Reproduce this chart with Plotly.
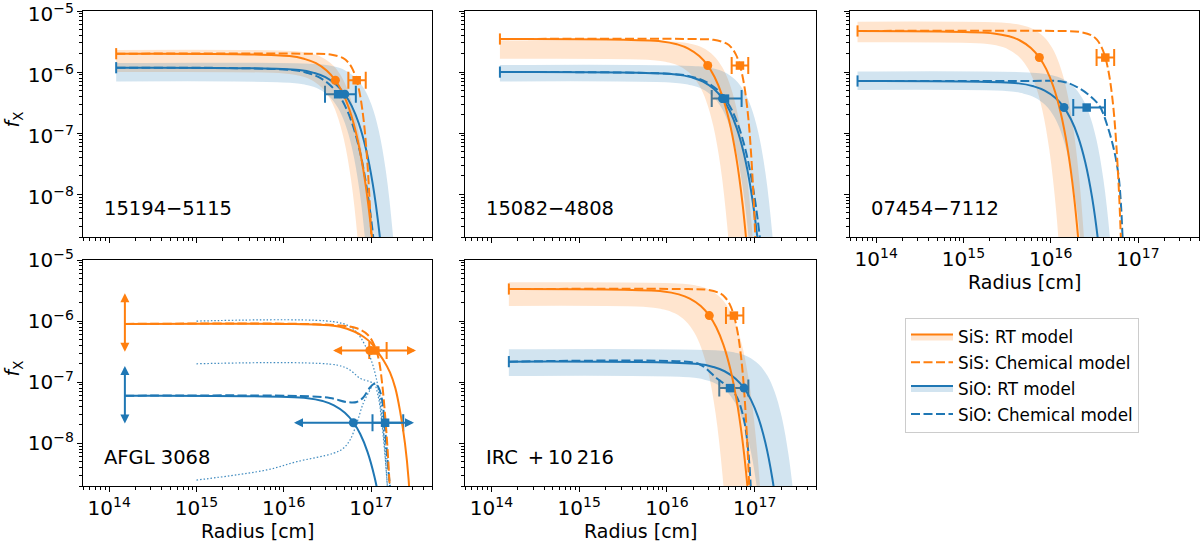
import numpy as np
import plotly.graph_objects as go

ORANGE = "#ff7f0e"
BLUE = "#1f77b4"
ORANGE_BAND = "rgba(255,127,14,0.2)"
BLUE_BAND = "rgba(31,119,180,0.2)"
DOT_BLUE = "rgba(31,119,180,0.85)"
FONT = "DejaVu Sans"

panel_names = ["15194\u22125115", "15082\u22124808", "07454\u22127112",
               "AFGL 3068", "IRC\u2002+\u200910\u2009216"]
legend_names = ["SiS: RT model", "SiS: Chemical model", "SiO: RT model", "SiO: Chemical model"]
x_limits = [5e13, 5e17]
y_limits = [2e-9, 1e-5]

# ---------------- Panel 1 : 15194-5115 ----------------
p1_sis_rt_r = [1.2e14, 1.17e16, 1.755e16, 2.34e16, 3.12e16, 3.9e16, 4.68e16, 5.655e16, 6.825e16, 8.19e16, 9.75e16, 1.17e17]
p1_sis_rt_f = [2.0e-6, 1.83e-6, 1.63e-6, 1.40e-6, 1.05e-6, 7.36e-7, 4.74e-7, 2.44e-7, 9.36e-8, 2.44e-8, 3.86e-9, 2.46e-10]
p1_sis_chem_r = [1.2e14, 2.055e16, 3.425e16, 4.795e16, 5.48e16, 6.165e16, 6.85e16, 7.535e16, 8.22e16, 8.905e16, 9.93e16, 1.096e17]
p1_sis_chem_f = [2.0e-6, 1.995e-6, 1.94e-6, 1.69e-6, 1.44e-6, 1.11e-6, 7.36e-7, 4.0e-7, 1.66e-7, 4.88e-8, 3.29e-9, 5.6e-11]
p1_sis_hi_r = [1.2e14, 1.374e16, 2.061e16, 2.748e16, 3.664e16, 4.58e16, 5.496e16, 6.641e16, 8.015e16, 9.618e16, 1.145e17]
p1_sis_hi_f = [2.3e-6, 2.19e-6, 2.01e-6, 1.74e-6, 1.30e-6, 8.46e-7, 4.75e-7, 1.83e-7, 4.0e-8, 3.86e-9, 1.17e-10]
p1_sis_lo_r = [1.2e14, 1.011e16, 1.517e16, 2.022e16, 2.696e16, 3.37e16, 4.044e16, 4.887e16, 5.898e16, 7.077e16, 8.425e16]
p1_sis_lo_f = [1.0e-6, 9.52e-7, 8.73e-7, 7.57e-7, 5.64e-7, 3.68e-7, 2.07e-7, 7.95e-8, 1.74e-8, 1.68e-9, 5.1e-11]
p1_sio_rt_r = [1.2e14, 1.5e16, 2.25e16, 3.0e16, 4.0e16, 5.0e16, 6.0e16, 7.25e16, 8.75e16, 1.05e17, 1.25e17, 1.5e17]
p1_sio_rt_f = [1.18e-6, 1.079e-6, 9.64e-7, 8.24e-7, 6.22e-7, 4.34e-7, 2.80e-7, 1.44e-7, 5.52e-8, 1.44e-8, 2.28e-9, 1.45e-10]
p1_sio_chem_r = [1.2e14, 1.26e16, 1.89e16, 2.52e16, 3.36e16, 4.2e16, 5.04e16, 6.09e16, 7.35e16, 8.82e16, 1.05e17, 1.26e17]
p1_sio_chem_f = [1.18e-6, 1.079e-6, 9.64e-7, 8.24e-7, 6.22e-7, 4.34e-7, 2.80e-7, 1.44e-7, 5.52e-8, 1.44e-8, 2.28e-9, 1.45e-10]
p1_sio_hi_r = [1.2e14, 2.532e16, 3.798e16, 5.064e16, 6.752e16, 8.44e16, 1.013e17, 1.224e17, 1.477e17, 1.772e17, 2.11e17]
p1_sio_hi_f = [1.41e-6, 1.342e-6, 1.231e-6, 1.067e-6, 7.95e-7, 5.19e-7, 2.91e-7, 1.12e-7, 2.45e-8, 2.37e-9, 7.2e-11]
p1_sio_lo_r = [1.2e14, 1.257e16, 1.886e16, 2.514e16, 3.352e16, 4.19e16, 5.028e16, 6.076e16, 7.333e16, 8.799e16, 1.048e17]
p1_sio_lo_f = [7.0e-7, 6.66e-7, 6.11e-7, 5.30e-7, 3.95e-7, 2.58e-7, 1.45e-7, 5.57e-8, 1.22e-8, 1.18e-9, 3.6e-11]
p1_sis_circle = [3.9e16, 7.36e-7]
p1_sis_square = [6.85e16, 7.36e-7]
p1_sis_err = [5.5e16, 8.7e16]
p1_sio_circle = [5.0e16, 4.34e-7]
p1_sio_square = [4.2e16, 4.34e-7]
p1_sio_err = [2.97e16, 6.7e16]

# ---------------- Panel 2 : 15082-4808 ----------------
p2_sis_rt_r = [1.25e14, 8.76e15, 1.314e16, 1.752e16, 2.336e16, 2.92e16, 3.504e16, 4.234e16, 5.11e16, 6.132e16, 7.3e16, 8.76e16]
p2_sis_rt_f = [3.48e-6, 3.18e-6, 2.84e-6, 2.43e-6, 1.83e-6, 1.28e-6, 8.25e-7, 4.25e-7, 1.63e-7, 4.25e-8, 6.72e-9, 4.28e-10]
p2_sis_chem_r = [1.25e14, 2.04e16, 3.4e16, 4.76e16, 5.44e16, 6.12e16, 6.8e16, 7.48e16, 8.16e16, 8.84e16, 9.86e16, 1.088e17]
p2_sis_chem_f = [3.48e-6, 3.47e-6, 3.37e-6, 2.94e-6, 2.51e-6, 1.93e-6, 1.28e-6, 6.95e-7, 2.89e-7, 8.49e-8, 5.72e-9, 9.7e-11]
p2_sis_hi_r = [1.25e14, 1.278e16, 1.917e16, 2.556e16, 3.408e16, 4.26e16, 5.112e16, 6.177e16, 7.455e16, 8.946e16, 1.065e17]
p2_sis_hi_f = [3.3e-6, 3.14e-6, 2.88e-6, 2.50e-6, 1.86e-6, 1.21e-6, 6.81e-7, 2.62e-7, 5.74e-8, 5.54e-9, 1.68e-10]
p2_sis_lo_r = [1.25e14, 6.99e15, 1.049e16, 1.398e16, 1.864e16, 2.33e16, 2.796e16, 3.379e16, 4.078e16, 4.893e16, 5.825e16]
p2_sis_lo_f = [1.65e-6, 1.57e-6, 1.44e-6, 1.25e-6, 9.31e-7, 6.07e-7, 3.41e-7, 1.31e-7, 2.87e-8, 2.77e-9, 8.4e-11]
p2_sio_rt_r = [1.25e14, 1.29e16, 1.935e16, 2.58e16, 3.44e16, 4.3e16, 5.16e16, 6.235e16, 7.525e16, 9.03e16, 1.075e17, 1.29e17]
p2_sio_rt_f = [1.0e-6, 9.14e-7, 8.17e-7, 6.98e-7, 5.27e-7, 3.68e-7, 2.37e-7, 1.22e-7, 4.68e-8, 1.22e-8, 1.93e-9, 1.23e-10]
p2_sio_chem_r = [1.25e14, 1.377e16, 2.066e16, 2.754e16, 3.672e16, 4.59e16, 5.508e16, 6.656e16, 8.033e16, 9.639e16, 1.148e17, 1.377e17]
p2_sio_chem_f = [1.0e-6, 9.14e-7, 8.17e-7, 6.98e-7, 5.27e-7, 3.68e-7, 2.37e-7, 1.22e-7, 4.68e-8, 1.22e-8, 1.93e-9, 1.23e-10]
p2_sio_hi_r = [1.25e14, 2.271e16, 3.407e16, 4.542e16, 6.056e16, 7.57e16, 9.084e16, 1.098e17, 1.325e17, 1.59e17, 1.893e17]
p2_sio_hi_f = [1.31e-6, 1.247e-6, 1.144e-6, 9.92e-7, 7.39e-7, 4.82e-7, 2.71e-7, 1.04e-7, 2.28e-8, 2.2e-9, 6.7e-11]
p2_sio_lo_r = [1.25e14, 1.26e16, 1.89e16, 2.52e16, 3.36e16, 4.2e16, 5.04e16, 6.09e16, 7.35e16, 8.82e16, 1.05e17]
p2_sio_lo_f = [7.0e-7, 6.66e-7, 6.11e-7, 5.30e-7, 3.95e-7, 2.58e-7, 1.45e-7, 5.57e-8, 1.22e-8, 1.18e-9, 3.6e-11]
p2_sis_circle = [2.92e16, 1.28e-6]
p2_sis_square = [6.8e16, 1.28e-6]
p2_sis_err = [5.47e16, 8.45e16]
p2_sio_circle = [4.3e16, 3.68e-7]
p2_sio_square = [4.59e16, 3.68e-7]
p2_sio_err = [3.24e16, 7.1e16]

# ---------------- Panel 3 : 07454-7112 ----------------
p3_sis_rt_r = [6.1e13, 2.22e15, 3.33e15, 4.44e15, 5.92e15, 7.4e15, 8.88e15, 1.073e16, 1.295e16, 1.554e16, 1.85e16, 2.22e16]
p3_sis_rt_f = [4.71e-6, 4.30e-6, 3.85e-6, 3.29e-6, 2.48e-6, 1.73e-6, 1.12e-6, 5.75e-7, 2.20e-7, 5.75e-8, 9.09e-9, 5.79e-10]
p3_sis_chem_r = [6.1e13, 1.266e16, 2.11e16, 2.954e16, 3.376e16, 3.798e16, 4.22e16, 4.642e16, 5.064e16, 5.486e16, 6.119e16, 6.752e16]
p3_sis_chem_f = [4.71e-6, 4.70e-6, 4.56e-6, 3.98e-6, 3.39e-6, 2.61e-6, 1.73e-6, 9.41e-7, 3.91e-7, 1.15e-7, 7.75e-9, 1.31e-10]
p3_sis_hi_r = [6.1e13, 3.12e15, 4.68e15, 6.24e15, 8.32e15, 1.04e16, 1.248e16, 1.508e16, 1.82e16, 2.184e16, 2.6e16]
p3_sis_hi_f = [6.7e-6, 6.38e-6, 5.85e-6, 5.07e-6, 3.78e-6, 2.47e-6, 1.38e-6, 5.33e-7, 1.17e-7, 1.13e-8, 3.4e-10]
p3_sis_lo_r = [6.1e13, 1.65e15, 2.475e15, 3.3e15, 4.4e15, 5.5e15, 6.6e15, 7.975e15, 9.625e15, 1.155e16, 1.375e16]
p3_sis_lo_f = [3.08e-6, 2.93e-6, 2.69e-6, 2.33e-6, 1.74e-6, 1.13e-6, 6.36e-7, 2.45e-7, 5.36e-8, 5.17e-9, 1.57e-10]
p3_sio_rt_r = [6.1e13, 4.26e15, 6.39e15, 8.52e15, 1.136e16, 1.42e16, 1.704e16, 2.059e16, 2.485e16, 2.982e16, 3.55e16, 4.26e16]
p3_sio_rt_f = [7.15e-7, 6.54e-7, 5.84e-7, 4.99e-7, 3.77e-7, 2.63e-7, 1.69e-7, 8.72e-8, 3.35e-8, 8.72e-9, 1.38e-9, 8.79e-11]
p3_sio_chem_r = [6.1e13, 5.0e15, 1.38e16, 2.0e16, 2.89e16, 3.66e16, 4.53e16, 5.31e16, 5.97e16, 6.38e16, 6.68e16, 6.9e16]
p3_sio_chem_f = [7.15e-7, 7.12e-7, 6.97e-7, 5.7e-7, 3.95e-7, 2.72e-7, 1.22e-7, 5.3e-8, 2.07e-8, 6.7e-9, 1.8e-9, 1.0e-9]
p3_sio_hi_r = [6.1e13, 6.87e15, 1.031e16, 1.374e16, 1.832e16, 2.29e16, 2.748e16, 3.321e16, 4.008e16, 4.809e16, 5.725e16]
p3_sio_hi_f = [1.02e-6, 9.71e-7, 8.90e-7, 7.72e-7, 5.75e-7, 3.75e-7, 2.11e-7, 8.11e-8, 1.77e-8, 1.71e-9, 5.2e-11]
p3_sio_lo_r = [6.1e13, 3.27e15, 4.905e15, 6.54e15, 8.72e15, 1.09e16, 1.308e16, 1.581e16, 1.908e16, 2.289e16, 2.725e16]
p3_sio_lo_f = [5.09e-7, 4.85e-7, 4.44e-7, 3.85e-7, 2.87e-7, 1.87e-7, 1.05e-7, 4.05e-8, 8.86e-9, 8.55e-10, 2.6e-11]
p3_sis_circle = [7.4e15, 1.73e-6]
p3_sis_square = [4.22e16, 1.73e-6]
p3_sis_err = [3.35e16, 5.33e16]
p3_sio_circle = [1.42e16, 2.63e-7]
p3_sio_square = [2.58e16, 2.63e-7]
p3_sio_err = [1.81e16, 4.18e16]

# ---------------- Panel 4 : AFGL 3068 ----------------
p4_sis_rt_r = [1.51e14, 1.2e16, 2.6e16, 4.4e16, 6.5e16, 8.2e16, 1.0e17, 1.16e17, 1.4e17, 1.65e17, 1.9e17, 2.15e17, 2.45e17, 2.7e17, 2.85e17]
p4_sis_rt_f = [9.0e-7, 8.95e-7, 8.7e-7, 8.1e-7, 6.7e-7, 5.55e-7, 4.4e-7, 3.3e-7, 2.25e-7, 1.45e-7, 8.0e-8, 3.4e-8, 1.0e-8, 2.5e-9, 6e-10]
p4_sis_chem_r = [1.51e14, 1.53e16, 4.42e16, 6.86e16, 9.23e16, 1.11e17, 1.23e17, 1.34e17, 1.45e17, 1.55e17, 1.63e17, 1.67e17]
p4_sis_chem_f = [9.0e-7, 9.0e-7, 8.47e-7, 7.62e-7, 5.92e-7, 3.81e-7, 2.31e-7, 9.7e-8, 2.9e-8, 7.8e-9, 2.24e-9, 1.2e-9]
p4_sio_rt_r = [1.51e14, 1.881e16, 2.822e16, 3.762e16, 5.016e16, 6.27e16, 7.524e16, 9.092e16, 1.097e17, 1.317e17, 1.568e17]
p4_sio_rt_f = [6.0e-8, 5.48e-8, 4.90e-8, 4.19e-8, 3.16e-8, 2.21e-8, 1.42e-8, 7.32e-9, 2.81e-9, 7.32e-10, 1.16e-10]
p4_sio_chem_r = [1.51e14, 1.53e16, 3.39e16, 5.26e16, 6.86e16, 8.15e16, 9.73e16, 1.11e17, 1.23e17, 1.34e17, 1.43e17, 1.5e17, 1.58e17, 1.65e17, 1.69e17]
p4_sio_chem_f = [6.0e-8, 5.94e-8, 5.51e-8, 4.74e-8, 4.74e-8, 5.62e-8, 8.18e-8, 9.5e-8, 8.0e-8, 5.1e-8, 2.15e-8, 9.4e-9, 3.66e-9, 1.93e-9, 1.2e-9]
p4_dot1_r = [1e15, 3.66e16, 5.74e16, 7.48e16, 9.73e16, 1.16e17, 1.27e17, 1.38e17, 1.51e17, 1.65e17, 1.69e17]
p4_dot1_f = [1.0e-6, 9.8e-7, 8.1e-7, 5.56e-7, 2.61e-7, 1.09e-7, 4.52e-8, 1.65e-8, 6.04e-9, 1.95e-9, 1.2e-9]
p4_dot2_r = [1e15, 4.05e16, 5.74e16, 7.48e16, 9.73e16, 1.16e17, 1.27e17, 1.36e17, 1.45e17, 1.54e17, 1.56e17]
p4_dot2_f = [2.0e-7, 1.91e-7, 1.58e-7, 1.16e-7, 1.02e-7, 9.0e-8, 5.79e-8, 2.4e-8, 6.86e-9, 1.95e-9, 1.2e-9]
p4_dot3_r = [1e15, 6.37e15, 1.41e16, 3.7e16, 4.81e16, 5.74e16, 6.86e16, 8.15e16, 9.73e16, 1.08e17, 1.21e17, 1.32e17, 1.45e17, 1.54e17, 1.58e17]
p4_dot3_f = [2.5e-9, 3.66e-9, 5.0e-9, 6.86e-9, 8.28e-9, 1.13e-8, 2.12e-8, 4.52e-8, 7.45e-8, 9.6e-8, 5.79e-8, 2.4e-8, 6.04e-9, 1.95e-9, 1.2e-9]
p4_sis_circle = [9.7e16, 3.3e-7]
p4_sis_square = [1.12e17, 3.3e-7]
p4_sis_err = [9.55e16, 1.51e17]
p4_sis_harrow = [3.53e16, 3.28e17]
p4_sis_varrow = [2.97e-7, 2.85e-6]
p4_sio_circle = [6.27e16, 2.17e-8]
p4_sio_square = [1.45e17, 2.17e-8]
p4_sio_err = [1.04e17, 2.34e17]
p4_sio_harrow = [1.26e16, 3.11e17]
p4_sio_varrow = [2.0e-8, 1.84e-7]

# ---------------- Panel 5 : IRC +10216 ----------------
p5_sis_rt_r = [1.58e14, 9.12e15, 1.368e16, 1.824e16, 2.432e16, 3.04e16, 3.648e16, 4.408e16, 5.32e16, 6.384e16, 7.6e16, 9.12e16]
p5_sis_rt_f = [3.35e-6, 3.06e-6, 2.74e-6, 2.34e-6, 1.77e-6, 1.23e-6, 7.94e-7, 4.09e-7, 1.57e-7, 4.09e-8, 6.47e-9, 4.12e-10]
p5_sis_chem_r = [1.58e14, 1.74e16, 2.9e16, 4.06e16, 4.64e16, 5.22e16, 5.8e16, 6.38e16, 6.96e16, 7.54e16, 8.41e16, 9.28e16]
p5_sis_chem_f = [3.35e-6, 3.34e-6, 3.25e-6, 2.83e-6, 2.41e-6, 1.86e-6, 1.23e-6, 6.69e-7, 2.78e-7, 8.18e-8, 5.51e-9, 9.3e-11]
p5_sis_hi_r = [1.58e14, 1.527e16, 2.291e16, 3.054e16, 4.072e16, 5.09e16, 6.108e16, 7.381e16, 8.908e16, 1.069e17, 1.273e17]
p5_sis_hi_f = [4.31e-6, 4.10e-6, 3.76e-6, 3.26e-6, 2.43e-6, 1.59e-6, 8.90e-7, 3.43e-7, 7.5e-8, 7.24e-9, 2.2e-10]
p5_sis_lo_r = [1.58e14, 6.15e15, 9.225e15, 1.23e16, 1.64e16, 2.05e16, 2.46e16, 2.973e16, 3.588e16, 4.305e16, 5.125e16]
p5_sis_lo_f = [1.77e-6, 1.69e-6, 1.55e-6, 1.34e-6, 9.98e-7, 6.51e-7, 3.66e-7, 1.41e-7, 3.08e-8, 2.97e-9, 9.0e-11]
p5_sio_rt_r = [1.58e14, 2.271e16, 3.407e16, 4.542e16, 6.056e16, 7.57e16, 9.084e16, 1.098e17, 1.325e17, 1.59e17, 1.893e17, 2.271e17]
p5_sio_rt_f = [2.17e-7, 1.98e-7, 1.77e-7, 1.51e-7, 1.14e-7, 7.99e-8, 5.14e-8, 2.65e-8, 1.02e-8, 2.65e-9, 4.19e-10, 2.67e-11]
p5_sio_chem_r = [1.58e14, 1.83e16, 2.38e16, 2.84e16, 3.69e16, 5.24e16, 6.24e16, 7.43e16, 8.11e16, 8.69e16, 9.02e16, 9.15e16]
p5_sio_chem_f = [2.17e-7, 2.14e-7, 1.95e-7, 1.64e-7, 1.16e-7, 7.94e-8, 5.79e-8, 2.72e-8, 1.28e-8, 4.71e-9, 1.95e-9, 1.2e-9]
p5_sio_hi_r = [1.58e14, 4.2e16, 6.3e16, 8.4e16, 1.12e17, 1.4e17, 1.68e17, 2.03e17, 2.45e17, 2.94e17, 3.5e17]
p5_sio_hi_f = [3.45e-7, 3.28e-7, 3.01e-7, 2.61e-7, 1.95e-7, 1.27e-7, 7.12e-8, 2.74e-8, 6.0e-9, 5.8e-10, 1.76e-11]
p5_sio_lo_r = [1.58e14, 1.788e16, 2.682e16, 3.576e16, 4.768e16, 5.96e16, 7.152e16, 8.642e16, 1.043e17, 1.252e17, 1.49e17]
p5_sio_lo_f = [1.26e-7, 1.20e-7, 1.10e-7, 9.54e-8, 7.11e-8, 4.64e-8, 2.6e-8, 1.0e-8, 2.19e-9, 2.12e-10, 6.4e-12]
p5_sis_circle = [3.04e16, 1.23e-6]
p5_sis_square = [5.8e16, 1.23e-6]
p5_sis_err = [4.71e16, 7.43e16]
p5_sio_circle = [7.57e16, 8.0e-8]
p5_sio_square = [5.24e16, 8.0e-8]
p5_sio_err = [3.95e16, 8.47e16]

# --------- assemble (table built from the named arrays) ---------
panels = [
    dict(sis_rt=(p1_sis_rt_r, p1_sis_rt_f), sis_chem=(p1_sis_chem_r, p1_sis_chem_f),
         sis_hi=(p1_sis_hi_r, p1_sis_hi_f), sis_lo=(p1_sis_lo_r, p1_sis_lo_f),
         sio_rt=(p1_sio_rt_r, p1_sio_rt_f), sio_chem=(p1_sio_chem_r, p1_sio_chem_f),
         sio_hi=(p1_sio_hi_r, p1_sio_hi_f), sio_lo=(p1_sio_lo_r, p1_sio_lo_f),
         sis_c=p1_sis_circle, sis_s=p1_sis_square, sis_e=p1_sis_err,
         sio_c=p1_sio_circle, sio_s=p1_sio_square, sio_e=p1_sio_err),
    dict(sis_rt=(p2_sis_rt_r, p2_sis_rt_f), sis_chem=(p2_sis_chem_r, p2_sis_chem_f),
         sis_hi=(p2_sis_hi_r, p2_sis_hi_f), sis_lo=(p2_sis_lo_r, p2_sis_lo_f),
         sio_rt=(p2_sio_rt_r, p2_sio_rt_f), sio_chem=(p2_sio_chem_r, p2_sio_chem_f),
         sio_hi=(p2_sio_hi_r, p2_sio_hi_f), sio_lo=(p2_sio_lo_r, p2_sio_lo_f),
         sis_c=p2_sis_circle, sis_s=p2_sis_square, sis_e=p2_sis_err,
         sio_c=p2_sio_circle, sio_s=p2_sio_square, sio_e=p2_sio_err),
    dict(sis_rt=(p3_sis_rt_r, p3_sis_rt_f), sis_chem=(p3_sis_chem_r, p3_sis_chem_f),
         sis_hi=(p3_sis_hi_r, p3_sis_hi_f), sis_lo=(p3_sis_lo_r, p3_sis_lo_f),
         sio_rt=(p3_sio_rt_r, p3_sio_rt_f), sio_chem=(p3_sio_chem_r, p3_sio_chem_f),
         sio_hi=(p3_sio_hi_r, p3_sio_hi_f), sio_lo=(p3_sio_lo_r, p3_sio_lo_f),
         sis_c=p3_sis_circle, sis_s=p3_sis_square, sis_e=p3_sis_err,
         sio_c=p3_sio_circle, sio_s=p3_sio_square, sio_e=p3_sio_err),
    dict(sis_rt=(p4_sis_rt_r, p4_sis_rt_f), sis_chem=(p4_sis_chem_r, p4_sis_chem_f),
         sio_rt=(p4_sio_rt_r, p4_sio_rt_f), sio_chem=(p4_sio_chem_r, p4_sio_chem_f),
         dots=[(p4_dot1_r, p4_dot1_f), (p4_dot2_r, p4_dot2_f), (p4_dot3_r, p4_dot3_f)],
         sis_c=p4_sis_circle, sis_s=p4_sis_square, sis_e=p4_sis_err,
         sio_c=p4_sio_circle, sio_s=p4_sio_square, sio_e=p4_sio_err),
    dict(sis_rt=(p5_sis_rt_r, p5_sis_rt_f), sis_chem=(p5_sis_chem_r, p5_sis_chem_f),
         sis_hi=(p5_sis_hi_r, p5_sis_hi_f), sis_lo=(p5_sis_lo_r, p5_sis_lo_f),
         sio_rt=(p5_sio_rt_r, p5_sio_rt_f), sio_chem=(p5_sio_chem_r, p5_sio_chem_f),
         sio_hi=(p5_sio_hi_r, p5_sio_hi_f), sio_lo=(p5_sio_lo_r, p5_sio_lo_f),
         sis_c=p5_sis_circle, sis_s=p5_sis_square, sis_e=p5_sis_err,
         sio_c=p5_sio_circle, sio_s=p5_sio_square, sio_e=p5_sio_err),
]

fig = go.Figure()


def sfx(i):
    return "" if i == 0 else str(i + 1)


def ax_kw(i):
    return dict(xaxis="x" + sfx(i), yaxis="y" + sfx(i), showlegend=False, hoverinfo="skip")


def add_line(i, rf, color, dash="solid", width=2.0):
    fig.add_trace(go.Scatter(x=rf[0], y=rf[1], mode="lines",
                             line=dict(color=color, width=width, dash=dash, shape="spline", smoothing=1.0),
                             **ax_kw(i)))


def add_band(i, hi, lo, color):
    fig.add_trace(go.Scatter(x=hi[0], y=hi[1], mode="lines",
                             line=dict(width=0, color=color, shape="spline", smoothing=1.0), **ax_kw(i)))
    fig.add_trace(go.Scatter(x=lo[0], y=lo[1], mode="lines", fill="tonexty", fillcolor=color,
                             line=dict(width=0, color=color, shape="spline", smoothing=1.0), **ax_kw(i)))


def add_err(i, sq, err, color):
    fig.add_trace(go.Scatter(x=[sq[0]], y=[sq[1]], mode="markers",
                             marker=dict(size=1, color="rgba(0,0,0,0)"),
                             error_x=dict(type="data", symmetric=False, array=[err[1] - sq[0]],
                                          arrayminus=[sq[0] - err[0]], color=color, thickness=2, width=8.5),
                             **ax_kw(i)))


def add_marker(i, pt, color, symbol, size):
    fig.add_trace(go.Scatter(x=[pt[0]], y=[pt[1]], mode="markers",
                             marker=dict(symbol=symbol, size=size, color=color, line=dict(width=0)),
                             **ax_kw(i)))


def add_startcap(i, rf, color):
    fig.add_trace(go.Scatter(x=[rf[0][0]], y=[rf[1][0]], mode="markers",
                             marker=dict(symbol="line-ns", size=8, color=color, line=dict(width=2, color=color)),
                             **ax_kw(i)))


for i, p in enumerate(panels):
    add_err(i, p["sio_s"], p["sio_e"], BLUE)
    if "sis_hi" in p:
        add_band(i, p["sis_hi"], p["sis_lo"], ORANGE_BAND)
        add_band(i, p["sio_hi"], p["sio_lo"], BLUE_BAND)
    add_err(i, p["sis_s"], p["sis_e"], ORANGE)
    for d in p.get("dots", []):
        add_line(i, d, DOT_BLUE, dash="1.5px,2px", width=1.2)
    add_line(i, p["sio_rt"], BLUE)
    add_line(i, p["sio_chem"], BLUE, dash="9px,3.5px")
    add_line(i, p["sis_rt"], ORANGE)
    add_line(i, p["sis_chem"], ORANGE, dash="9px,3.5px")
    add_marker(i, p["sio_c"], BLUE, "circle", 9)
    add_marker(i, p["sio_s"], BLUE, "square", 8.5)
    add_marker(i, p["sis_c"], ORANGE, "circle", 9)
    add_marker(i, p["sis_s"], ORANGE, "square", 8.5)
    if i != 3:
        add_startcap(i, p["sis_rt"], ORANGE)
        add_startcap(i, p["sio_rt"], BLUE)

# legend entries
fig.add_trace(go.Scatter(x=[None], y=[None], mode="lines", name=legend_names[0], fill="toself",
                         fillcolor=ORANGE_BAND, line=dict(color=ORANGE, width=2), legendgroup="a"))
fig.add_trace(go.Scatter(x=[None], y=[None], mode="lines", name=legend_names[1],
                         line=dict(color=ORANGE, width=2, dash="9px,3.5px"), legendgroup="b"))
fig.add_trace(go.Scatter(x=[None], y=[None], mode="lines", name=legend_names[2], fill="toself",
                         fillcolor=BLUE_BAND, line=dict(color=BLUE, width=2), legendgroup="c"))
fig.add_trace(go.Scatter(x=[None], y=[None], mode="lines", name=legend_names[3],
                         line=dict(color=BLUE, width=2, dash="9px,3.5px"), legendgroup="d"))

# axes
W, H = 1200, 541
xdom = [(83 / W, 432 / W), (465 / W, 816 / W), (850 / W, 1199 / W)]
ydom = [(1 - 237 / H, 1 - 11 / H), (1 - 486 / H, 1 - 260 / H)]
grid_pos = [(0, 0), (1, 0), (2, 0), (0, 1), (1, 1)]
show_x = [False, False, True, True, True]
show_y = [True, False, False, True, False]
label_shift_y = [3, 0, 0, 0, 0]

tickfont = dict(family=FONT, size=16, color="black")
minor = dict(ticks="outside", ticklen=3, tickwidth=0.8, tickcolor="black", dtick="D1", showgrid=False)
axes = {}
for i, (c, rw) in enumerate(grid_pos):
    n = sfx(i)
    common = dict(type="log", dtick=1, exponentformat="power", showexponent="all", ticks="outside",
                  ticklen=5, tickwidth=1, tickcolor="black", showline=True, linecolor="black",
                  linewidth=1, mirror=True, showgrid=False, zeroline=False, minor=minor,
                  tickfont=tickfont, automargin=False, ticklabeloverflow="allow")
    axes["xaxis" + n] = dict(common, range=[np.log10(x_limits[0]), np.log10(x_limits[1])],
                             domain=xdom[c], anchor="y" + n, showticklabels=show_x[i])
    axes["yaxis" + n] = dict(common, range=[np.log10(y_limits[0]), np.log10(y_limits[1])],
                             domain=ydom[rw], anchor="x" + n, showticklabels=show_y[i],
                             ticklabelshift=label_shift_y[i])

annotations = []
for i, name in enumerate(panel_names):
    n = sfx(i)
    annotations.append(dict(text=name, xref="x" + n + " domain", yref="y" + n + " domain",
                            x=0.054, y=0.125, xanchor="left", yanchor="middle", showarrow=False,
                            font=dict(family=FONT, size=19.5, color="black")))
for i in [2, 3, 4]:
    n = sfx(i)
    annotations.append(dict(text="Radius [cm]", xref="x" + n + " domain", yref="y" + n + " domain",
                            x=0.5, y=-0.2, xanchor="center", yanchor="middle", showarrow=False,
                            font=dict(family=FONT, size=19, color="black")))
for i in [0, 3]:
    n = sfx(i)
    annotations.append(dict(text="<i>f</i><sub>X</sub>", xref="paper", yref="y" + n + " domain",
                            x=13 / W, y=0.52, xanchor="center", yanchor="middle", textangle=-90,
                            showarrow=False, font=dict(family=FONT, size=19, color="black")))

# arrows in AFGL 3068 panel (limits)
r0 = p4_sis_rt_r[0]
for varrow, color in [(p4_sis_varrow, ORANGE), (p4_sio_varrow, BLUE)]:
    annotations.append(dict(text="", x=np.log10(r0), y=np.log10(varrow[1]), ax=np.log10(r0),
                            ay=np.log10(varrow[0]), xref="x4", yref="y4", axref="x4", ayref="y4",
                            showarrow=True, arrowside="end+start", arrowhead=2, startarrowhead=2,
                            arrowsize=0.9, startarrowsize=0.9, arrowwidth=2, arrowcolor=color))
for harrow, yv, color in [(p4_sis_harrow, p4_sis_square[1], ORANGE), (p4_sio_harrow, p4_sio_square[1], BLUE)]:
    annotations.append(dict(text="", x=np.log10(harrow[1]), y=np.log10(yv), ax=np.log10(harrow[0]),
                            ay=np.log10(yv), xref="x4", yref="y4", axref="x4", ayref="y4",
                            showarrow=True, arrowside="end+start", arrowhead=2, startarrowhead=2,
                            arrowsize=0.9, startarrowsize=0.9, arrowwidth=2, arrowcolor=color))

fig.update_layout(
    width=W, height=H, margin=dict(l=0, r=0, t=0, b=0, autoexpand=False),
    paper_bgcolor="white", plot_bgcolor="white",
    font=dict(family=FONT, size=16, color="black"),
    showlegend=True,
    legend=dict(x=905 / W, y=1 - 318 / H, xanchor="left", yanchor="top",
                bgcolor="white", bordercolor="#cccccc", borderwidth=1, itemwidth=42,
                font=dict(family=FONT, size=16.8, color="black"), traceorder="grouped",
                tracegroupgap=1),
    annotations=annotations,
    **axes,
)

fig.write_html("out.html")
